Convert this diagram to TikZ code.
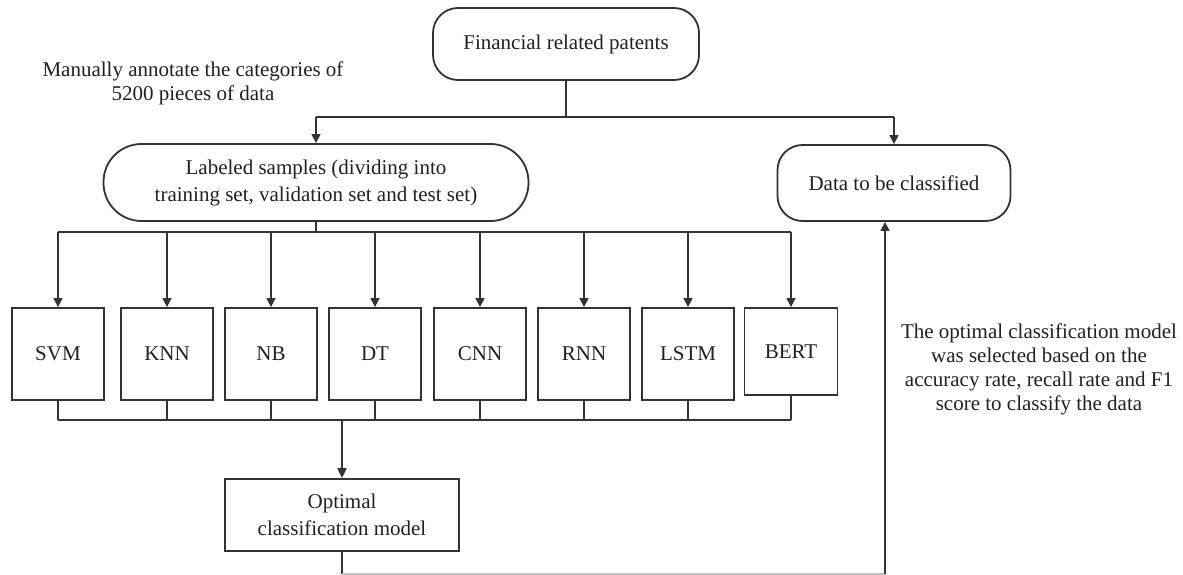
\documentclass[tikz,border=0pt]{standalone}
\usepackage{fontspec}
\setmainfont{Liberation Serif}
\usetikzlibrary{arrows.meta}
\definecolor{lncol}{HTML}{333333}
\definecolor{txtcol}{HTML}{231F20}
\begin{document}
\begin{tikzpicture}[x=1pt,y=-1pt,
  every node/.style={text=txtcol, font=\fontsize{21}{27}\selectfont},
  rbox/.style={draw=lncol, line width=1.8pt, align=center, inner sep=0pt},
  mbox/.style={draw=lncol, line width=1.8pt, align=center, inner sep=0pt, minimum width=92pt, minimum height=92pt},
  conn/.style={draw=lncol, line width=1.4pt},
  arr/.style={conn, -{Triangle[width=9pt,length=9pt]}},
  note/.style={align=center, inner sep=0pt, font=\fontsize{21}{24}\selectfont}]
\useasboundingbox (0,0) rectangle (1183,575);

% main nodes
\node[rbox, rounded corners=25pt, minimum width=266pt, minimum height=72pt] (top) at (566,44) {Financial related patents};
\node[rbox, rounded corners=38pt, minimum width=425pt, minimum height=77pt] (lab) at (316,182.5) {Labeled samples (dividing into\\training set, validation set and test set)};
\node[rbox, rounded corners=25pt, minimum width=233pt, minimum height=76pt] (dat) at (894,183) {Data to be classified};

\node[mbox] (svm) at (58,354) {SVM};
\node[mbox] (knn) at (167,354) {KNN};
\node[mbox] (nb) at (271,354) {NB};
\node[mbox] (dt) at (375,354) {DT};
\node[mbox] (cnn) at (480,354) {CNN};
\node[mbox] (rnn) at (584,354) {RNN};
\node[mbox] (lstm) at (688,354) {LSTM};
\node[mbox, minimum width=93pt, minimum height=87pt] (bert) at (791,351.5) {BERT};

\node[rbox, minimum width=234pt, minimum height=72pt] (opt) at (342,515) {Optimal\\classification model};

% notes
\node[note] (n1) at (193,83) {Manually annotate the categories of\\5200 pieces of data};
\node[note] (n2) at (1039,369) {The optimal classification model\\was selected based on the\\accuracy rate, recall rate and F1\\score to classify the data};

% helper coordinates
\coordinate (t) at (566,117);
\coordinate (d) at (316,232);
\coordinate (c) at (342,420);
\coordinate (u) at (885,574);

% top split
\draw[conn] (top) -- (top |- t);
\draw[conn] (lab |- t) -- (dat |- t);
\draw[arr] (lab |- t) -- (lab);
\draw[arr] (dat |- t) -- (dat);

% distribution to models
\draw[conn] (lab) -- (lab |- d);
\draw[conn] (svm |- d) -- (bert |- d);
\foreach \n in {svm,knn,nb,dt,cnn,rnn,lstm,bert}
  \draw[arr] (\n |- d) -- (\n);

% collection from models
\foreach \n in {svm,knn,nb,dt,cnn,rnn,lstm,bert}
  \draw[conn] (\n) -- (\n |- c);
\draw[conn] (svm |- c) -- (bert |- c);
\draw[conn, line width=2pt, -{Triangle[width=9pt,length=10pt]}] (c) -- (opt);

% feedback to data to be classified
\draw[conn] (opt) -- (opt |- u);
\draw[conn, draw=black!25] (opt |- u) -- (u);
\draw[arr] (u) -- (u |- dat.south);
\end{tikzpicture}
\end{document}
